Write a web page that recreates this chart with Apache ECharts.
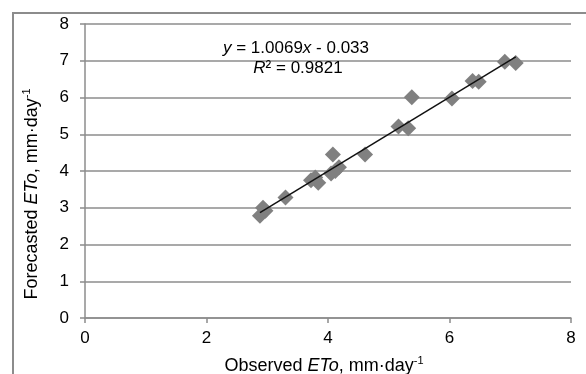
<!DOCTYPE html>
<html>
<head>
<meta charset="utf-8">
<script src="https://cdn.jsdelivr.net/npm/echarts@6/dist/echarts.min.js"></script>
<style>
html,body{margin:0;padding:0;background:#fff;}
#c{width:586px;height:374px;}
</style>
</head>
<body>
<div id="c"></div>
<script>
// Data
var observed = [2.88, 2.93, 2.97, 3.30, 3.72, 3.79, 3.84, 4.05, 4.08, 4.12, 4.18, 4.61, 5.16, 5.32, 5.38, 6.04, 6.38, 6.48, 6.91, 7.09];
var forecasted = [2.78, 3.00, 2.92, 3.28, 3.75, 3.82, 3.68, 3.93, 4.45, 4.00, 4.10, 4.45, 5.21, 5.16, 6.01, 5.97, 6.45, 6.43, 6.97, 6.94];
var trendSlope = 1.0069;
var trendIntercept = -0.033;
var xTicks = [0, 2, 4, 6, 8];
var yTicks = [0, 1, 2, 3, 4, 5, 6, 7, 8];
var xTitle = ['Observed ', 'ETo', ', mm·day', '-1'];
var yTitle = ['Forecasted ', 'ETo', ', mm·day', '-1'];

var FONT = "'Liberation Sans', Arial, sans-serif";
var FS = 17;
var TFS = 18;
var points = observed.map(function (v, i) { return [v, forecasted[i]]; });
var xMin = Math.min.apply(null, observed), xMax = Math.max.apply(null, observed);
var trend = [[xMin, trendSlope * xMin + trendIntercept], [xMax, trendSlope * xMax + trendIntercept]];

var chart = echarts.init(document.getElementById('c'), null, {renderer: 'canvas'});
var gray = '#8c8c8c';
var tok = function (size, extra) {
  var o = {fontFamily: FONT, fontSize: size, fill: '#000', color: '#000'};
  for (var k in extra) o[k] = extra[k];
  return o;
};
var titleRich = {
  n: tok(TFS, {lineHeight: 20, verticalAlign: 'bottom'}),
  i: tok(TFS, {fontStyle: 'italic', lineHeight: 20, verticalAlign: 'bottom'}),
  s: tok(11, {lineHeight: 20, verticalAlign: 'top'})
};
function titleText(p) {
  return '{n|' + p[0] + '}{i|' + p[1] + '}{n|' + p[2] + '}{s|' + p[3] + '}';
}
chart.setOption({
  animation: false,
  backgroundColor: '#fff',
  grid: {left: 85, right: 15, top: 24, bottom: 56, containLabel: false},
  xAxis: {
    type: 'value', min: xTicks[0], max: xTicks[xTicks.length - 1], interval: 2,
    axisLine: {show: true, lineStyle: {color: gray, width: 1.5}},
    axisTick: {show: true, length: 5, lineStyle: {color: gray, width: 1.5}},
    splitLine: {show: false},
    axisLabel: {fontFamily: FONT, fontSize: FS, color: '#000', margin: 12}
  },
  yAxis: {
    type: 'value', min: yTicks[0], max: yTicks[yTicks.length - 1], interval: 1,
    axisLine: {show: true, lineStyle: {color: gray, width: 1.5}},
    axisTick: {show: true, length: 5, lineStyle: {color: gray, width: 1.5}},
    splitLine: {show: true, lineStyle: {color: gray, width: 1.5}},
    axisLabel: {fontFamily: FONT, fontSize: FS, color: '#000', margin: 16}
  },
  series: [
    {
      type: 'scatter', data: points, symbol: 'diamond', symbolSize: 16,
      itemStyle: {color: '#808080', opacity: 1}, z: 2
    },
    {
      type: 'line', data: trend, symbol: 'none', silent: true,
      lineStyle: {color: '#111', width: 1.5}, z: 3
    }
  ],
  graphic: [
    {
      type: 'rect', silent: true, z: -10,
      shape: {x: 13, y: 13, width: 700, height: 500},
      style: {fill: 'none', stroke: gray, lineWidth: 2}
    },
    {
      type: 'text', x: 296, y: 48, z: 10,
      style: {
        text: '{i|y}{n| = 1.0069}{i|x}{n| - 0.033}',
        align: 'center', verticalAlign: 'middle',
        rich: {n: tok(FS, {}), i: tok(FS, {fontStyle: 'italic'})},
        fontFamily: FONT, fontSize: FS, fill: '#000'
      }
    },
    {
      type: 'text', x: 298, y: 68, z: 10,
      style: {
        text: '{i|R}{n|² = 0.9821}',
        align: 'center', verticalAlign: 'middle',
        rich: {n: tok(FS, {}), i: tok(FS, {fontStyle: 'italic'})},
        fontFamily: FONT, fontSize: FS, fill: '#000'
      }
    },
    {
      type: 'text', x: 324, y: 365, z: 10,
      style: {
        text: titleText(xTitle), rich: titleRich,
        align: 'center', verticalAlign: 'middle',
        fontFamily: FONT, fontSize: TFS, fill: '#000'
      }
    },
    {
      type: 'text', x: 31, y: 194, rotation: Math.PI / 2, z: 10,
      style: {
        text: titleText(yTitle), rich: titleRich,
        align: 'center', verticalAlign: 'middle',
        fontFamily: FONT, fontSize: TFS, fill: '#000'
      }
    }
  ]
});
</script>
</body>
</html>
